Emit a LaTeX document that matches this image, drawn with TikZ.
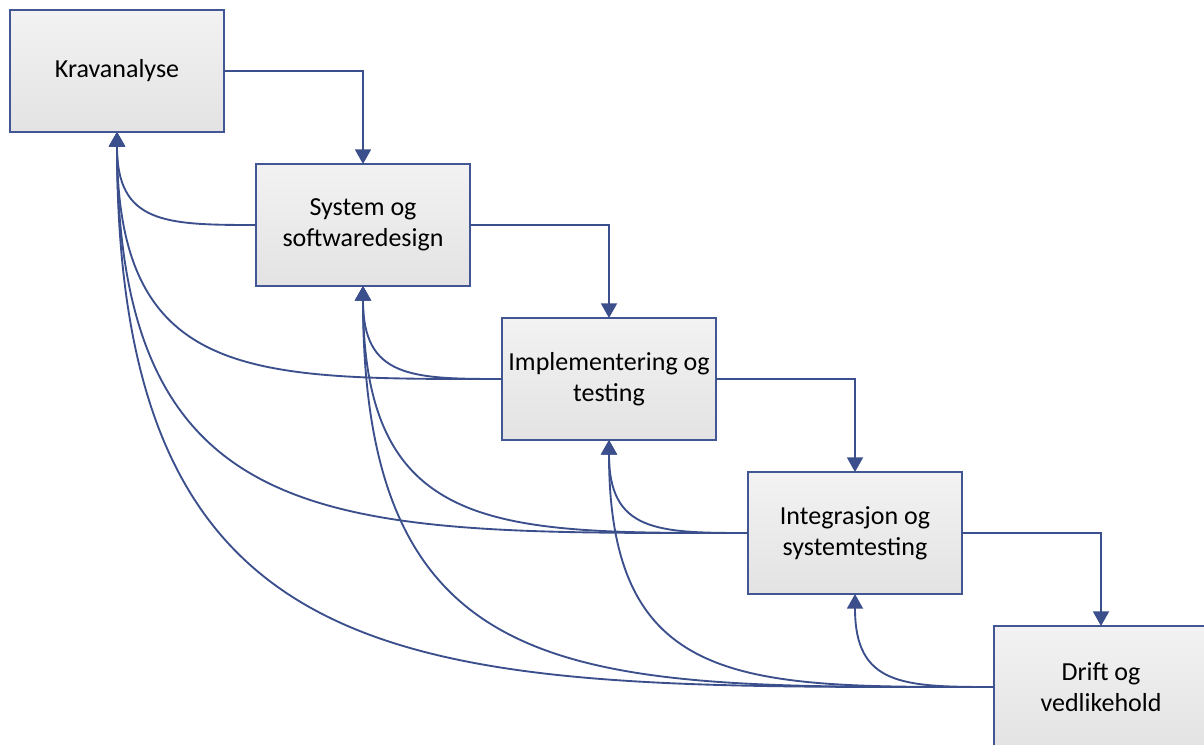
\documentclass[tikz,border=0pt]{standalone}
\usepackage{fontspec}
\setmainfont{Carlito}
\usetikzlibrary{positioning,arrows.meta}
\definecolor{linkblue}{RGB}{59,79,140}
\definecolor{boxedge}{RGB}{66,86,148}

\begin{document}
\begin{tikzpicture}[x=0.75pt, y=-0.75pt, node distance=24pt and 23.5pt,
  phase/.style={rectangle, draw=boxedge, line width=1.4pt, outer sep=0pt, top color=black!5, bottom color=black!11, minimum width=161pt, minimum height=91.5pt, align=center, font=\fontsize{19.5}{23.5}\selectfont},
  flow/.style={draw=linkblue, line width=1.4pt, -{Triangle[width=12pt,length=11pt]}},
  back/.style={flow, out=180, in=-90, looseness=1.4}]
  \clip (0,0) rectangle (1204,744);

  \node[phase] (K) at (117,71) {Kravanalyse};
  \node[phase, below right=of K] (S) {System og\\softwaredesign};
  \node[phase, below right=of S] (I) {Implementering og\\testing};
  \node[phase, below right=of I] (T) {Integrasjon og\\systemtesting};
  \node[phase, below right=of T] (D) {Drift og\\vedlikehold};

  % waterfall steps
  \draw[flow] (K.east) -| (S.north);
  \draw[flow] (S.east) -| (I.north);
  \draw[flow] (I.east) -| (T.north);
  \draw[flow] (T.east) -| (D.north);

  % feedback to earlier phases
  \foreach \from/\to in {S/K, I/K, I/S, T/K, T/S, T/I, D/K, D/S, D/I, D/T}
    \draw[back] (\from.west) to (\to.south);
\end{tikzpicture}
\end{document}
